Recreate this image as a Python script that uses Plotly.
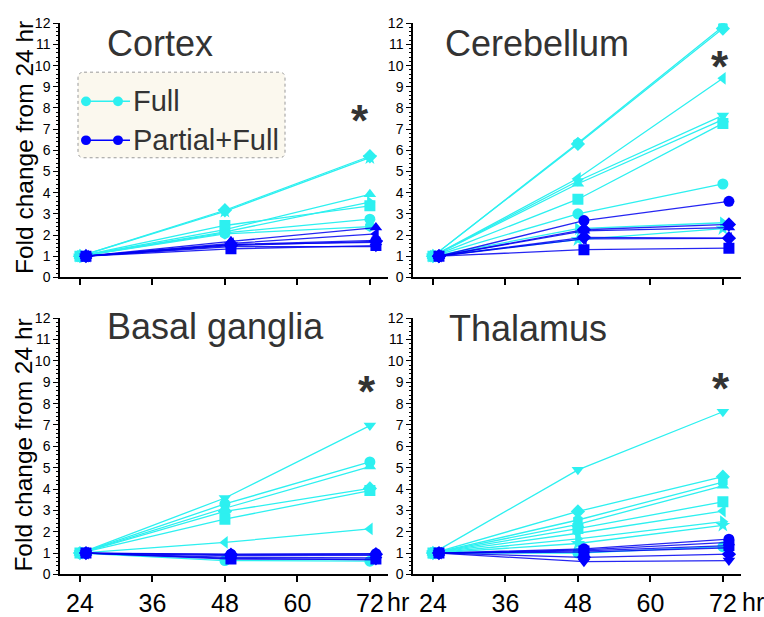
import plotly.graph_objects as go

# ---------------- data ----------------
HOURS = [24, 48, 72]
BASELINE = 1.0          # fold change at 24 hr
PARTIAL_SHIFT = 1.0     # horizontal nudge for Partial+Full group (hr)

REGIONS = ["Cortex", "Cerebellum", "Basal ganglia", "Thalamus"]

CORTEX_FULL_48 = [3.17, 3.12, 2.25, 2.15, 2.45, 2.10, 2.05]
CORTEX_FULL_72 = [5.72, 5.65, 3.92, 3.55, 3.38, 2.75, 2.40]
CORTEX_PART_48 = [1.70, 1.60, 1.55, 1.50, 1.55, 1.35, 1.45]
CORTEX_PART_72 = [2.35, 2.05, 1.75, 1.70, 1.65, 1.50, 1.45]

CEREB_FULL_48 = [6.35, 6.30, 4.68, 4.55, 4.42, 3.69, 3.00, 2.30, 1.78]
CEREB_FULL_72 = [11.85, 11.75, 9.40, 7.65, 7.45, 7.27, 4.41, 2.58, 2.30]
CEREB_PART_48 = [2.68, 2.25, 2.20, 1.89, 1.82, 1.31]
CEREB_PART_72 = [3.59, 2.50, 2.35, 1.85, 1.84, 1.38]

BASAL_FULL_48 = [3.58, 3.30, 3.10, 2.95, 2.59, 1.50, 0.65]
BASAL_FULL_72 = [6.97, 5.27, 5.05, 4.03, 3.93, 2.13, 0.62]
BASAL_PART_48 = [0.95, 0.93, 0.88, 0.80, 0.72, 0.75]
BASAL_PART_72 = [0.97, 0.95, 0.90, 0.78, 0.72, 0.68]

THAL_FULL_48 = [4.90, 2.95, 2.55, 2.35, 2.15, 1.93, 1.67, 1.45, 1.00]
THAL_FULL_72 = [7.62, 4.58, 4.32, 4.15, 3.40, 2.97, 2.47, 2.30, 1.30]
THAL_PART_48 = [1.20, 1.15, 1.10, 1.05, 0.80, 0.60]
THAL_PART_72 = [1.65, 1.50, 1.35, 1.25, 0.95, 0.65]

X_TICKS = [24, 36, 48, 60, 72]
X_TICK_TEXT = ["24", "36", "48", "60", "72"]
Y_TICKS = list(range(0, 13))

# ---------------- styles ----------------
CYAN = "rgb(45,240,240)"
BLUE = "rgb(0,0,255)"
BLUE_LINE = "rgba(0,0,240,0.85)"
DARK = "#333333"
FONT = "Liberation Sans, Arial, sans-serif"

SYM_FULL = {
    "Cortex": ["diamond", "star", "triangle-up", "triangle-right", "square", "circle", "hexagon"],
    "Cerebellum": ["hexagon", "diamond", "triangle-left", "triangle-down", "triangle-up",
                   "square", "circle", "triangle-right", "star"],
    "Basal ganglia": ["triangle-down", "circle", "triangle-up", "diamond", "square",
                      "triangle-left", "circle"],
    "Thalamus": ["triangle-down", "diamond", "hexagon", "triangle-up", "square",
                 "triangle-left", "triangle-right", "star", "circle"],
}
SYM_PART = {
    "Cortex": ["triangle-up", "triangle-left", "circle", "diamond", "star", "square", "triangle-down"],
    "Cerebellum": ["circle", "diamond", "triangle-up", "diamond", "triangle-left", "square"],
    "Basal ganglia": ["circle", "diamond", "triangle-up", "triangle-left", "square", "triangle-down"],
    "Thalamus": ["circle", "triangle-up", "square", "triangle-left", "diamond", "triangle-down"],
}

DATA = {
    "Cortex": (CORTEX_FULL_48, CORTEX_FULL_72, CORTEX_PART_48, CORTEX_PART_72),
    "Cerebellum": (CEREB_FULL_48, CEREB_FULL_72, CEREB_PART_48, CEREB_PART_72),
    "Basal ganglia": (BASAL_FULL_48, BASAL_FULL_72, BASAL_PART_48, BASAL_PART_72),
    "Thalamus": (THAL_FULL_48, THAL_FULL_72, THAL_PART_48, THAL_PART_72),
}

W, H = 764, 617
def px(x):
    return x / W
def py(y):
    return 1 - y / H

X_DOM = {"L": [px(60), px(388)], "R": [px(413), px(741)]}
Y_DOM = {"T": [py(277), py(15.7)], "B": [py(582.5), py(319)]}
PANEL_POS = {"Cortex": ("L", "T"), "Cerebellum": ("R", "T"),
             "Basal ganglia": ("L", "B"), "Thalamus": ("R", "B")}

fig = go.Figure()
layout = {}

for i, region in enumerate(REGIONS, start=1):
    sx = "" if i == 1 else str(i)
    xa, ya = "x" + sx, "y" + sx
    f48, f72, p48, p72 = DATA[region]
    # Full (cyan)
    for v48, v72, sym in zip(f48, f72, SYM_FULL[region]):
        fig.add_trace(go.Scatter(
            x=HOURS, y=[BASELINE, v48, v72], xaxis=xa, yaxis=ya,
            mode="lines+markers", showlegend=False,
            line=dict(color=CYAN, width=1.3),
            marker=dict(symbol=sym, size=11, color=CYAN, line=dict(width=0)),
            hoverinfo="x+y"))
    # Partial+Full (blue)
    xs = [h + PARTIAL_SHIFT for h in HOURS]
    for v48, v72, sym in zip(p48, p72, SYM_PART[region]):
        fig.add_trace(go.Scatter(
            x=xs, y=[BASELINE, v48, v72], xaxis=xa, yaxis=ya,
            mode="lines+markers", showlegend=False,
            line=dict(color=BLUE_LINE, width=1.3),
            marker=dict(symbol=sym, size=11, color=BLUE, line=dict(width=0)),
            hoverinfo="x+y"))

    col, row = PANEL_POS[region]
    bottom = row == "B"
    layout["xaxis" + sx] = dict(
        domain=X_DOM[col], anchor=ya, range=[20.7, 75], showgrid=False, zeroline=False,
        showline=True, linecolor="black", linewidth=1.5,
        tickmode="array", tickvals=X_TICKS, ticktext=X_TICK_TEXT,
        ticks="outside", ticklen=6, tickwidth=1.5, tickcolor="black",
        showticklabels=bottom, tickfont=dict(family=FONT, size=25, color="black"))
    layout["yaxis" + sx] = dict(
        domain=Y_DOM[row], anchor=xa, range=[0, 12], showgrid=False, zeroline=False,
        showline=True, linecolor="black", linewidth=1.5,
        tickmode="array", tickvals=Y_TICKS,
        ticks="outside", ticklen=5, tickwidth=1.3, tickcolor="black",
        minor=dict(dtick=0.2, ticks="outside", ticklen=2.5, tickwidth=0.8, tickcolor="black"),
        tickfont=dict(family=FONT, size=14, color="black"))

annotations = []
# panel titles
TITLE_POS = {"Cortex": (105, 36), "Cerebellum": (443, 36),
             "Basal ganglia": (105, 328), "Thalamus": (447, 330)}
for region, (tx, ty) in TITLE_POS.items():
    annotations.append(dict(text=region, x=px(tx), y=py(ty), xref="paper", yref="paper",
                            xanchor="left", yanchor="middle", showarrow=False,
                            font=dict(family=FONT, size=36, color=DARK)))
# significance stars
STAR_POS = {"Cortex": (360, 116), "Cerebellum": (720, 60),
            "Basal ganglia": (367, 394), "Thalamus": (721, 391)}
for region, (sx_, sy_) in STAR_POS.items():
    annotations.append(dict(text="<b>*</b>", x=px(sx_), y=py(sy_), xref="paper", yref="paper",
                            xanchor="center", yanchor="middle", showarrow=False,
                            font=dict(family=FONT, size=44, color=DARK)))
# y-axis titles
for cy in (144, 450):
    annotations.append(dict(text="Fold change from 24 hr", x=px(24), y=py(cy),
                            xref="paper", yref="paper", textangle=-90,
                            xanchor="center", yanchor="middle", showarrow=False,
                            font=dict(family=FONT, size=24.5, color="black")))
# "hr" unit after the last x tick
for hx in (385, 740):
    annotations.append(dict(text="hr", x=px(hx), y=py(611), xref="paper", yref="paper",
                            xanchor="left", yanchor="middle", showarrow=False,
                            font=dict(family=FONT, size=25, color="black")))

# custom legend
shapes = []
bx0, bx1, by0, by1, r = 78, 285, 66, 154, 6
path = (f"M {px(bx0 + r)},{py(by0)} L {px(bx1 - r)},{py(by0)} "
        f"Q {px(bx1)},{py(by0)} {px(bx1)},{py(by0 + r)} L {px(bx1)},{py(by1 - r)} "
        f"Q {px(bx1)},{py(by1)} {px(bx1 - r)},{py(by1)} L {px(bx0 + r)},{py(by1)} "
        f"Q {px(bx0)},{py(by1)} {px(bx0)},{py(by1 - r)} L {px(bx0)},{py(by0 + r)} "
        f"Q {px(bx0)},{py(by0)} {px(bx0 + r)},{py(by0)} Z")
shapes.append(dict(type="path", path=path, xref="paper", yref="paper",
                   fillcolor="#FBF8EE", line=dict(color="#9a9a9a", width=1, dash="dot"),
                   layer="below"))
LEGEND_ITEMS = [("Full", CYAN, 96), ("Partial+Full", BLUE, 136)]
for label, colr, ly in LEGEND_ITEMS:
    shapes.append(dict(type="line", xref="paper", yref="paper",
                       x0=px(82), x1=px(130), y0=py(ly), y1=py(ly),
                       line=dict(color=colr, width=1.5)))
    for cx in (86, 118):
        shapes.append(dict(type="circle", xref="paper", yref="paper",
                           x0=px(cx - 5), x1=px(cx + 5), y0=py(ly + 5), y1=py(ly - 5),
                           fillcolor=colr, line=dict(color=colr, width=0)))
    annotations.append(dict(text=label, x=px(131), y=py(ly), xref="paper", yref="paper",
                            xanchor="left", yanchor="middle", showarrow=False,
                            font=dict(family=FONT, size=29, color=DARK)))

fig.update_layout(
    width=W, height=H, margin=dict(l=0, r=0, t=0, b=0),
    paper_bgcolor="white", plot_bgcolor="white",
    showlegend=False, annotations=annotations, shapes=shapes, **layout)

fig.write_html("out.html", config={"displayModeBar": False},
               post_script="document.body.style.margin='0';document.body.style.overflow='hidden';")
